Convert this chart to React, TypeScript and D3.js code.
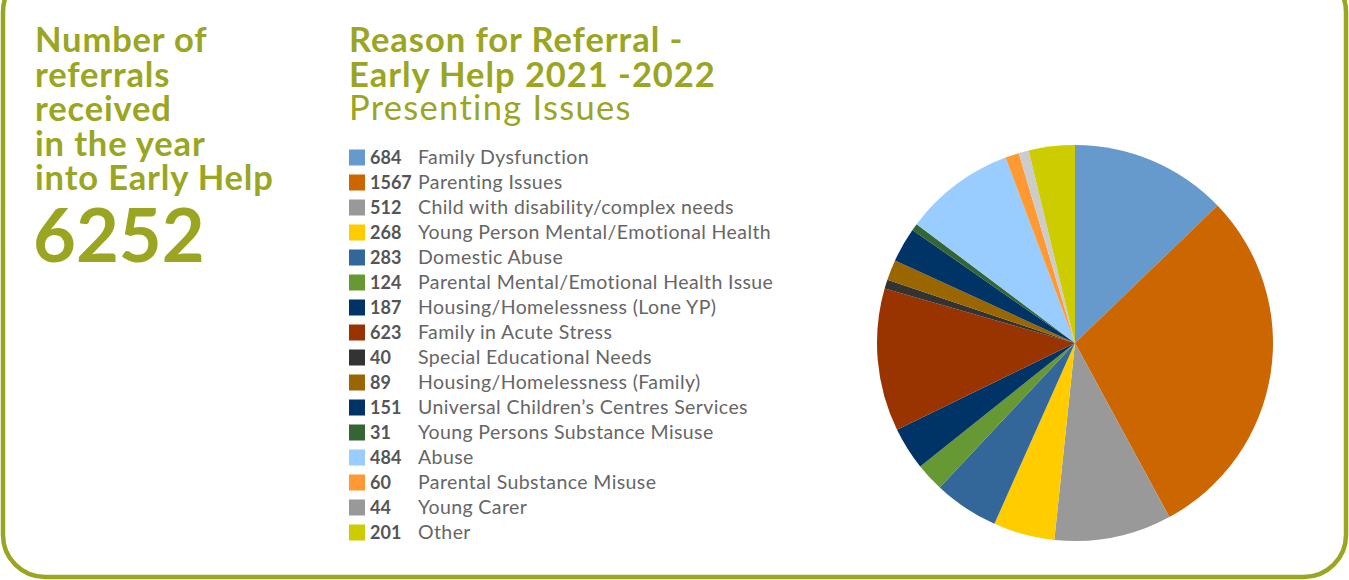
import React from "react";
import * as d3 from "d3";

const categories = [
  "Family Dysfunction",
  "Parenting Issues",
  "Child with disability/complex needs",
  "Young Person Mental/Emotional Health",
  "Domestic Abuse",
  "Parental Mental/Emotional Health Issue",
  "Housing/Homelessness (Lone YP)",
  "Family in Acute Stress",
  "Special Educational Needs",
  "Housing/Homelessness (Family)",
  "Universal Children\u2019s Centres Services",
  "Young Persons Substance Misuse",
  "Abuse",
  "Parental Substance Misuse",
  "Young Carer",
  "Other",
];
const values = [684, 1567, 512, 268, 283, 124, 187, 623, 40, 89, 151, 31, 484, 60, 44, 201];
const sliceColors = [
  "#6699cc", "#cc6600", "#999999", "#ffcc00", "#336699", "#669933", "#003366", "#993300",
  "#333333", "#996600", "#003366", "#336633", "#99ccff", "#ff9933", "#cccccc", "#cccc00",
];
const legendColors = [
  "#6699cc", "#cc6600", "#999999", "#ffcc00", "#336699", "#669933", "#003366", "#993300",
  "#333333", "#996600", "#003366", "#336633", "#99ccff", "#ff9933", "#999999", "#cccc00",
];
const leftTitleLines = ["Number of", "referrals", "received", "in the year", "into Early Help"];
const totalLabel = "6252";
const titleBoldLines = ["Reason for Referral -", "Early Help 2021 -2022"];
const titleRegular = "Presenting Issues";

const W = 1349;
const H = 580;
const GREEN = "#9aa622";
const FONT = "Lato, 'Open Sans', sans-serif";

export default function App() {
  const cx = 1075;
  const cy = 343;
  const r = 198;
  const pie = d3.pie<number>().sort(null).value((d) => d)(values);
  const arc = d3.arc<d3.PieArcDatum<number>>().innerRadius(0).outerRadius(r);
  const rowY = d3.scaleLinear().domain([0, 1]).range([157.5, 182.5]);

  return (
    <svg
      width={W}
      height={H}
      style={{ position: "absolute", left: 0, top: 0, background: "#fff" }}
      fontFamily={FONT}
    >
      <rect x={3} y={-30} width={1343} height={607} rx={42} ry={42} fill="none" stroke={GREEN} strokeWidth={4.5} />
      {leftTitleLines.map((t, i) => (
        <text key={t} x={35} y={52 + i * 34.6} fill={GREEN} fontSize={34.5} fontWeight={700} letterSpacing={0.85}>
          {t}
        </text>
      ))}
      <text x={33} y={262} fill={GREEN} fontSize={74} fontWeight={700}>
        {totalLabel}
      </text>
      {titleBoldLines.map((t, i) => (
        <text key={t} x={349} y={52 + i * 34.6} fill={GREEN} fontSize={34.5} fontWeight={700} letterSpacing={0.95}>
          {t}
        </text>
      ))}
      <text x={349} y={120} fill={GREEN} fontSize={34.5} fontWeight={400} letterSpacing={1.3}>
        {titleRegular}
      </text>
      {categories.map((c, i) => (
        <g key={c} transform={`translate(0,${rowY(i)})`}>
          <rect x={349} y={-8} width={16} height={16} fill={legendColors[i]} />
          <text x={370} y={6.5} fill="#555" fontSize={18} fontWeight={700}>
            {values[i]}
          </text>
          <text x={418} y={6.5} fill="#666" fontSize={19.5} letterSpacing={0.4}>
            {c}
          </text>
        </g>
      ))}
      <g transform={`translate(${cx},${cy})`}>
        {pie.map((p, i) => (
          <path key={i} d={arc(p) || ""} fill={sliceColors[i]} />
        ))}
      </g>
    </svg>
  );
}
